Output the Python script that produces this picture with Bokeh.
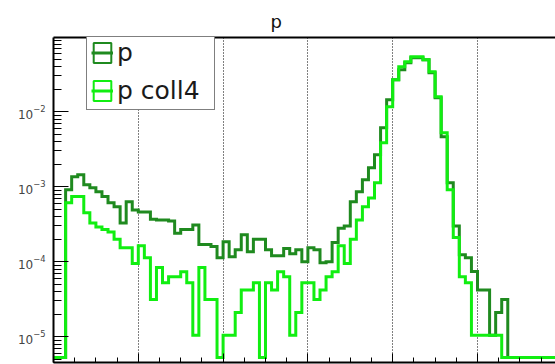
import numpy as np
from bokeh.plotting import figure
from bokeh.models import (Range1d, LinearAxis, FixedTicker, LogTicker, Legend,
                          LegendItem)
from bokeh.embed import file_html
from bokeh.resources import INLINE

# ---- data: normalised bin contents, bins of unit width (14 bins per major division)
p_vals = [
    0, 0, 9.1e-4, 1.36e-3, 1.45e-3, 1.06e-3, 9.7e-4, 8.6e-4, 7.4e-4, 6.1e-4,
    5.4e-4, 3.3e-4, 6.3e-4, 4.9e-4, 4.6e-4, 4.6e-4, 3.7e-4, 3.6e-4, 3.6e-4, 3.5e-4,
    2.4e-4, 2.7e-4, 2.7e-4, 3.1e-4, 1.7e-4, 1.7e-4, 1.6e-4, 1.13e-4, 1.85e-4, 1.17e-4,
    1.45e-4, 2.3e-4, 1.36e-4, 2.0e-4, 2.0e-4, 1.45e-4, 1.2e-4, 1.2e-4, 1.5e-4, 1.28e-4,
    1.45e-4, 1.0e-4, 1.54e-4, 1.45e-4, 9.7e-5, 1.0e-4, 1.8e-4, 2.8e-4, 3.0e-4, 6.3e-4,
    8.6e-4, 1.24e-3, 1.79e-3, 2.67e-3, 6.1e-3, 1.45e-2, 2.67e-2, 3.63e-2, 4.5e-2, 5.25e-2,
    5.25e-2, 4.94e-2, 3.31e-2, 1.54e-2, 4.64e-3, 1.13e-3, 3.0e-4, 1.24e-4, 1.13e-4, 7.4e-5,
    4.2e-5, 4.2e-5, 1.05e-5, 2.1e-5, 3.15e-5, 0, 0, 0, 0, 0,
    0, 0, 0,
]
p_coll4_vals = [
    0, 0, 6.1e-4, 7.4e-4, 7.4e-4, 4.5e-4, 3.3e-4, 2.9e-4, 2.7e-4, 2.5e-4,
    2.0e-4, 1.54e-4, 1.54e-4, 9.45e-5, 1.63e-4, 1.13e-4, 3.15e-5, 8.4e-5, 5.25e-5, 6.3e-5,
    6.3e-5, 7.35e-5, 5.25e-5, 1.05e-5, 8.4e-5, 3.15e-5, 3.15e-5, 0, 1.05e-5, 1.05e-5,
    2.1e-5, 4.2e-5, 4.2e-5, 5.25e-5, 0, 5.25e-5, 4.2e-5, 7.35e-5, 6.3e-5, 1.05e-5,
    2.1e-5, 5.25e-5, 5.25e-5, 3.15e-5, 4.2e-5, 6.3e-5, 7.35e-5, 1.63e-4, 9.45e-5, 2.0e-4,
    3.6e-4, 5.4e-4, 7.1e-4, 1.13e-3, 3.86e-3, 1.17e-2, 2.67e-2, 3.98e-2, 4.64e-2, 5.41e-2,
    5.41e-2, 4.94e-2, 3.41e-2, 1.58e-2, 5.25e-3, 9.1e-4, 2.1e-4, 6.3e-5, 5.25e-5, 1.05e-5,
    1.05e-5, 1.05e-5, 1.05e-5, 1.05e-5, 0, 0, 0, 0, 0, 0,
    0, 0, 0,
]
x_major_ticks = [0, 14, 28, 42, 56, 70]
series_labels = ["p", "p coll4"]
title_text = "p"

# ---- style
DARK = "#1f8a1f"
BRIGHT = "#11ee11"
FONT = "DejaVu Sans"
X_HI = 82.88
Y_LO = 10 ** -5.343
Y_HI = 10 ** -1.01
ZERO_LEVEL = 10 ** -5.277  # where empty bins are drawn (bottom of the frame)

minor_step = (x_major_ticks[1] - x_major_ticks[0]) / 4
x_minor_ticks = list(np.arange(0, X_HI, minor_step))

p = figure(width=555, height=364, output_backend="svg", toolbar_location=None,
           y_axis_type="log", x_range=Range1d(0, X_HI), y_range=Range1d(Y_LO, Y_HI),
           min_border_left=53, min_border_right=0, min_border_top=37,
           min_border_bottom=2)
p.outline_line_color = None
p.background_fill_color = "white"
p.border_fill_color = "white"

p.title.text = title_text
p.title.align = "left"
p.title.offset = 217
p.title.standoff = 12
p.title.text_font = FONT
p.title.text_font_size = "18px"
p.title.text_font_style = "normal"
p.title.text_color = "#111111"

# x axis (its number labels fall outside the picture, so none are drawn)
xt = FixedTicker(ticks=x_major_ticks, minor_ticks=x_minor_ticks)
p.xaxis.ticker = xt
p.xaxis.major_label_overrides = {t: "" for t in x_major_ticks}
p.xaxis.major_label_standoff = 0
p.xaxis.major_tick_in = 9
p.xaxis.major_tick_out = 0
p.xaxis.minor_tick_in = 5
p.xaxis.minor_tick_out = 0
p.xaxis.axis_line_width = 2
p.xaxis.major_tick_line_width = 1
p.xaxis.minor_tick_line_width = 1

# y axis
p.yaxis.ticker = LogTicker(num_minor_ticks=10)
p.yaxis.major_label_text_font = FONT
p.yaxis.major_label_text_font_size = "12px"
p.yaxis.major_label_text_color = "#444444"
p.yaxis.major_label_standoff = 8
p.yaxis.major_tick_in = 15
p.yaxis.major_tick_out = 0
p.yaxis.minor_tick_in = 8
p.yaxis.minor_tick_out = 0
p.yaxis.axis_line_width = 2

# top frame line
top = LinearAxis(ticker=FixedTicker(ticks=[]),
                 major_tick_in=0, major_tick_out=0, minor_tick_in=0, minor_tick_out=0,
                 major_label_standoff=0, axis_line_width=2)
p.add_layout(top, "above")

p.xgrid.ticker = xt
p.xgrid.grid_line_color = "black"
p.xgrid.grid_line_dash = "1 2"
p.xgrid.grid_line_width = 1
p.ygrid.visible = False

edges = np.arange(len(p_vals) + 1)


def outline(vals):
    v = np.array(vals, dtype=float)
    v = np.where(v > 0, v, ZERO_LEVEL)
    return np.append(v, v[-1])


r_dark = p.step(edges, outline(p_vals), mode="after", line_color=DARK,
                line_width=3, line_join="miter")
r_bright = p.step(edges, outline(p_coll4_vals), mode="after", line_color=BRIGHT,
                  line_width=3, line_join="miter")

# legend-only boxes (no visible data)
box_dark = p.quad(left=[np.nan], right=[np.nan], bottom=[np.nan], top=[np.nan],
                  fill_color=None, line_color=DARK, line_width=2)
box_bright = p.quad(left=[np.nan], right=[np.nan], bottom=[np.nan], top=[np.nan],
                    fill_color=None, line_color=BRIGHT, line_width=2)

legend = Legend(items=[LegendItem(label=series_labels[0], renderers=[box_dark, r_dark]),
                       LegendItem(label=series_labels[1], renderers=[box_bright, r_bright])],
                location=(33, 252), border_line_color="black", border_line_width=1.5,
                background_fill_color="white", background_fill_alpha=1.0,
                label_text_font=FONT, label_text_font_size="25px",
                label_text_color="#1a1a1a", glyph_width=22, glyph_height=25,
                padding=4, spacing=9, label_standoff=4, margin=0, label_width=93)
p.add_layout(legend)

open("out.html", "w").write(file_html(p, INLINE))
